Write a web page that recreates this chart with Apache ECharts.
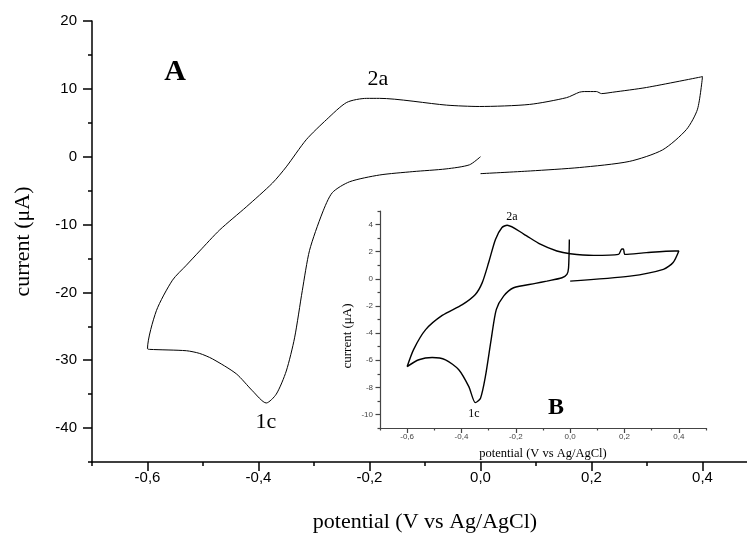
<!DOCTYPE html>
<html>
<head>
<meta charset="utf-8">
<script src="https://cdn.jsdelivr.net/npm/echarts@6/dist/echarts.min.js"></script>
<style>
  html, body { margin: 0; padding: 0; background: #fff; }
  #chart { width: 747px; height: 533px; }
</style>
</head>
<body>
<div id="chart"></div>
<script>
// main voltammogram (A), one continuous scan path
var mainPotential = [0.0, 0.09, 0.178, 0.268, 0.328, 0.371, 0.391, 0.4,
  0.299, 0.238, 0.218, 0.209, 0.187, 0.178, 0.155, 0.088, -0.002, -0.061, -0.182, -0.205,
  -0.241, -0.277, -0.314, -0.35, -0.375, -0.422, -0.47, -0.506, -0.53, -0.555, -0.584, -0.6,
  -0.596, -0.53, -0.506, -0.483, -0.44, -0.411, -0.386, -0.368, -0.35, -0.335, -0.321,
  -0.308, -0.285, -0.267, -0.236, -0.182, -0.122, -0.062, -0.02, 0.0]
var mainCurrent = [-2.5, -2.1, -1.6, -0.7, 1.0, 4.0, 7.0, 11.8,
  10.2, 9.5, 9.3, 9.6, 9.6, 9.5, 8.7, 7.7, 7.4, 7.6, 8.6, 8.6,
  8.0, 5.5, 2.5, -1.5, -3.9, -7.4, -10.8, -13.9, -16.0, -18.2, -22.7, -28.3,
  -28.4, -28.6, -29.0, -29.8, -32.0, -34.5, -36.3, -35.0, -31.6, -26.7, -19.7,
  -13.8, -8.3, -5.3, -3.7, -2.7, -2.2, -1.8, -1.2, 0.0]

// inset voltammogram (B)
var insetPotential = [0.0, 0.22, 0.343, 0.379, 0.4,
  0.385, 0.281, 0.202, 0.196, 0.19, 0.178, 0.086, 0.0, -0.049, -0.11, -0.171, -0.232,
  -0.251, -0.275, -0.3, -0.324, -0.349, -0.397, -0.471, -0.532, -0.576, -0.6,
  -0.557, -0.508, -0.459, -0.41, -0.373, -0.349, -0.33, -0.312, -0.291, -0.272,
  -0.245, -0.208, -0.128, -0.086, -0.03, -0.012, -0.006, -0.003]
var insetCurrent = [-0.17, 0.2, 0.7, 1.2, 2.05,
  2.05, 1.93, 1.8, 2.2, 2.2, 1.8, 1.73, 1.85, 2.05, 2.55, 3.3, 3.95,
  3.78, 2.9, 1.2, -0.3, -1.15, -1.9, -2.7, -3.75, -5.2, -6.47,
  -5.97, -5.8, -5.97, -6.7, -7.95, -9.13, -8.8, -7.2, -4.5, -2.27,
  -1.28, -0.66, -0.34, -0.17, 0.08, 0.33, 0.8, 2.9]

// tick positions
var mainXMajor = [-0.6, -0.4, -0.2, 0.0, 0.2, 0.4]
var mainXMinor = [-0.7, -0.5, -0.3, -0.1, 0.1, 0.3, 0.5]
var mainYMajor = [-40, -30, -20, -10, 0, 10, 20]
var mainYMinor = [-45, -35, -25, -15, -5, 5, 15]
var insetXMajor = [-0.6, -0.4, -0.2, 0.0, 0.2, 0.4]
var insetXMinor = [-0.7, -0.5, -0.3, -0.1, 0.1, 0.3, 0.5]
var insetYMajor = [-10, -8, -6, -4, -2, 0, 2, 4]
var insetYMinor = [-11, -9, -7, -5, -3, -1, 1, 3, 5]

function zip (a, b) {
  var out = []
  for (var i = 0; i < a.length; i++) out.push([a[i], b[i]])
  return out
}
function comma (v) {
  return v.toFixed(1).replace('.', ',')
}

var serif = 'Liberation Serif'
var sans = 'Liberation Sans'

function majorAxis (grid, min, max, ticks, opts) {
  return {
    type: 'value',
    gridIndex: grid,
    min: min,
    max: max,
    position: opts.position,
    axisLine: { show: true, onZero: false, lineStyle: { color: opts.color, width: opts.lineWidth } },
    axisTick: { show: true, customValues: ticks, length: opts.tickLen, lineStyle: { color: opts.color, width: opts.lineWidth } },
    axisLabel: {
      show: true,
      customValues: ticks,
      formatter: opts.formatter,
      fontFamily: sans,
      fontSize: opts.fontSize,
      color: opts.labelColor,
      margin: opts.margin
    },
    splitLine: { show: false },
    name: opts.name,
    nameLocation: 'middle',
    nameGap: opts.nameGap,
    nameTextStyle: { fontFamily: serif, fontSize: opts.nameSize, color: '#000' }
  }
}
function minorAxis (grid, min, max, ticks, opts) {
  return {
    type: 'value',
    gridIndex: grid,
    min: min,
    max: max,
    position: opts.position,
    axisLine: { show: false, onZero: false },
    axisTick: { show: true, customValues: ticks, length: opts.tickLen, lineStyle: { color: opts.color, width: opts.lineWidth } },
    axisLabel: { show: false },
    splitLine: { show: false }
  }
}

var chart = echarts.init(document.getElementById('chart'), null, { renderer: 'canvas' })
chart.setOption({
  animation: false,
  backgroundColor: '#fff',
  grid: [
    { left: 92, top: 21, width: 666, height: 441, outerBoundsMode: 'none', containLabel: false },
    { left: 380, top: 211, width: 326, height: 217, outerBoundsMode: 'none', containLabel: false }
  ],
  xAxis: [
    majorAxis(0, -0.7, 0.5, mainXMajor, {
      position: 'bottom', color: '#000', lineWidth: 1.5, tickLen: 9, formatter: comma,
      fontSize: 15, labelColor: '#000', margin: 8,
      name: 'potential (V vs Ag/AgCl)', nameGap: 49, nameSize: 22
    }),
    minorAxis(0, -0.7, 0.5, mainXMinor, { position: 'bottom', color: '#000', lineWidth: 1.5, tickLen: 4 }),
    majorAxis(1, -0.7, 0.5, insetXMajor, {
      position: 'bottom', color: '#444', lineWidth: 1.2, tickLen: 5, formatter: comma,
      fontSize: 8, labelColor: '#444', margin: 5,
      name: 'potential (V vs Ag/AgCl)', nameGap: 19, nameSize: 12.5
    }),
    minorAxis(1, -0.7, 0.5, insetXMinor, { position: 'bottom', color: '#444', lineWidth: 1.2, tickLen: 2.5 })
  ],
  yAxis: [
    majorAxis(0, -45, 20, mainYMajor, {
      position: 'left', color: '#000', lineWidth: 1.5, tickLen: 9, formatter: '{value}',
      fontSize: 15, labelColor: '#000', margin: 15,
      name: 'current (μA)', nameGap: 58, nameSize: 22
    }),
    minorAxis(0, -45, 20, mainYMinor, { position: 'left', color: '#000', lineWidth: 1.5, tickLen: 4 }),
    majorAxis(1, -11, 5, insetYMajor, {
      position: 'left', color: '#444', lineWidth: 1.2, tickLen: 4.5, formatter: '{value}',
      fontSize: 8, labelColor: '#444', margin: 7,
      name: '', nameGap: 0, nameSize: 12
    }),
    minorAxis(1, -11, 5, insetYMinor, { position: 'left', color: '#444', lineWidth: 1.2, tickLen: 2.5 })
  ],
  series: [
    {
      type: 'line',
      xAxisIndex: 0,
      yAxisIndex: 0,
      data: zip(mainPotential, mainCurrent),
      smooth: 0.25,
      showSymbol: false,
      lineStyle: { color: '#000', width: 1 }
    },
    {
      type: 'line',
      xAxisIndex: 2,
      yAxisIndex: 2,
      data: zip(insetPotential, insetCurrent),
      smooth: 0.25,
      showSymbol: false,
      lineStyle: { color: '#000', width: 1.4 }
    }
  ],
  graphic: [
    { type: 'text', x: 175, y: 72, style: { text: 'A', font: 'bold 30px "Liberation Serif"', fill: '#000', align: 'center', verticalAlign: 'middle', textAlign: 'center', textVerticalAlign: 'middle' } },
    { type: 'text', x: 378, y: 79, style: { text: '2a', font: '22px "Liberation Serif"', fill: '#000', align: 'center', verticalAlign: 'middle', textAlign: 'center', textVerticalAlign: 'middle' } },
    { type: 'text', x: 266, y: 422, style: { text: '1c', font: '22px "Liberation Serif"', fill: '#000', align: 'center', verticalAlign: 'middle', textAlign: 'center', textVerticalAlign: 'middle' } },
    { type: 'text', x: 556, y: 408, style: { text: 'B', font: 'bold 24px "Liberation Serif"', fill: '#000', align: 'center', verticalAlign: 'middle', textAlign: 'center', textVerticalAlign: 'middle' } },
    { type: 'text', x: 512, y: 217, style: { text: '2a', font: '12px "Liberation Serif"', fill: '#000', align: 'center', verticalAlign: 'middle', textAlign: 'center', textVerticalAlign: 'middle' } },
    { type: 'text', x: 474, y: 414, style: { text: '1c', font: '12px "Liberation Serif"', fill: '#000', align: 'center', verticalAlign: 'middle', textAlign: 'center', textVerticalAlign: 'middle' } },
    { type: 'text', x: 348, y: 336, rotation: Math.PI / 2, style: { text: 'current (μA)', font: '13px "Liberation Serif"', fill: '#000', align: 'center', verticalAlign: 'middle', textAlign: 'center', textVerticalAlign: 'middle' } }
  ]
})
</script>
</body>
</html>
